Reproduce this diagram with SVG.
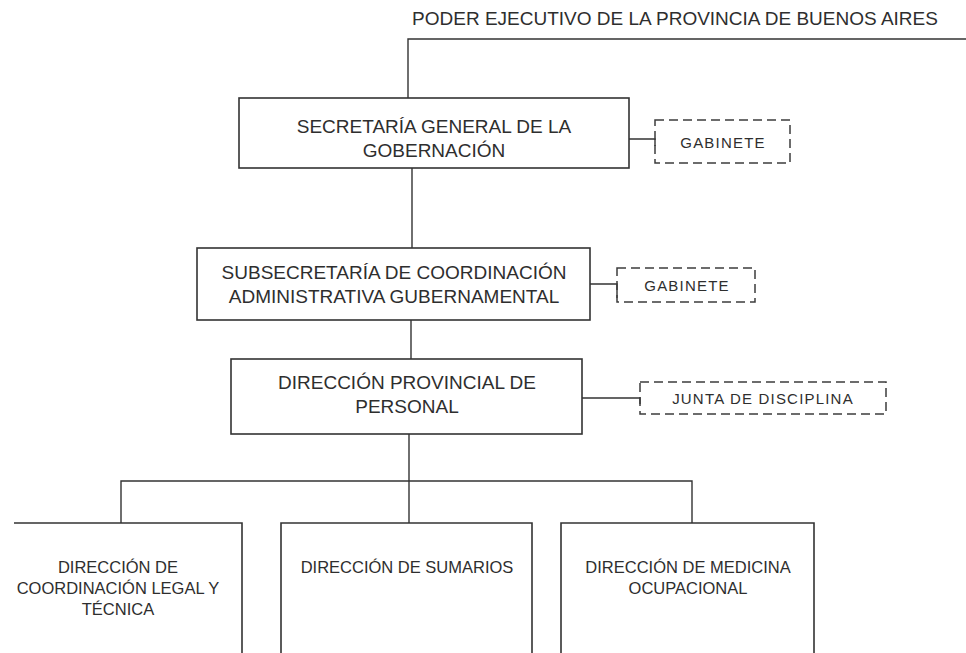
<svg xmlns="http://www.w3.org/2000/svg" width="966" height="653" viewBox="0 0 966 653">
<style>
.box{fill:none;stroke:#333;stroke-width:1.6}
.dash{fill:none;stroke:#3c3c3c;stroke-width:1.5;stroke-dasharray:9 5}
.ln{fill:none;stroke:#333;stroke-width:1.4}
.t{font-family:"Liberation Sans",Arial,sans-serif;fill:#2e2e2e;text-anchor:middle}
.tl{font-size:19px}
.ts{font-size:15px;letter-spacing:1.2px}
.tb{font-size:16.5px}
</style>
<rect width="966" height="653" fill="#fff"/>
<text class="t" x="675" y="25" style="font-size:19px">PODER EJECUTIVO DE LA PROVINCIA DE BUENOS AIRES</text>
<g id="connectors">
<path class="ln" d="M408 98 V39 H966"/>
<path class="ln" d="M412 168 V248"/>
<path class="ln" d="M411 320 V359"/>
<path class="ln" d="M409 434 V523"/>
<path class="ln" d="M121 523 V481 H692 V523"/>
<path class="ln" d="M629 139 H655 V146"/>
<path class="ln" d="M590 284 H617 V298"/>
<path class="ln" d="M582 398 H640 V404"/>
</g>
<g id="secretaria">
<rect class="box" x="239" y="98" width="390" height="70"/>
<text class="t tl" x="434" y="133">SECRETARÍA GENERAL DE LA</text>
<text class="t tl" x="434" y="157">GOBERNACIÓN</text>
</g>
<g id="gabinete1">
<rect class="dash" x="655" y="120" width="135" height="43"/>
<text class="t ts" x="723" y="148">GABINETE</text>
</g>
<g id="subsecretaria">
<rect class="box" x="197" y="248" width="393" height="72"/>
<text class="t tl" x="394" y="279">SUBSECRETARÍA DE COORDINACIÓN</text>
<text class="t tl" x="394" y="303">ADMINISTRATIVA GUBERNAMENTAL</text>
</g>
<g id="gabinete2">
<rect class="dash" x="617" y="268" width="138" height="34"/>
<text class="t ts" x="687" y="291">GABINETE</text>
</g>
<g id="direccion-provincial">
<rect class="box" x="231" y="359" width="351" height="75"/>
<text class="t tl" x="407" y="389">DIRECCIÓN PROVINCIAL DE</text>
<text class="t tl" x="407" y="413">PERSONAL</text>
</g>
<g id="junta">
<rect class="dash" x="640" y="382" width="246" height="32"/>
<text class="t ts" x="763" y="404">JUNTA DE DISCIPLINA</text>
</g>
<g id="legal-tecnica">
<path class="box" d="M14 523 H242 V653"/>
<text class="t tb" x="118" y="573">DIRECCIÓN DE</text>
<text class="t tb" x="118" y="594">COORDINACIÓN LEGAL Y</text>
<text class="t tb" x="118" y="615">TÉCNICA</text>
</g>
<g id="sumarios">
<path class="box" d="M281 653 V523 H532 V653"/>
<text class="t tb" x="407" y="573">DIRECCIÓN DE SUMARIOS</text>
</g>
<g id="medicina">
<path class="box" d="M561 653 V523 H814 V653"/>
<text class="t tb" x="688" y="573">DIRECCIÓN DE MEDICINA</text>
<text class="t tb" x="688" y="594">OCUPACIONAL</text>
</g>
</svg>
